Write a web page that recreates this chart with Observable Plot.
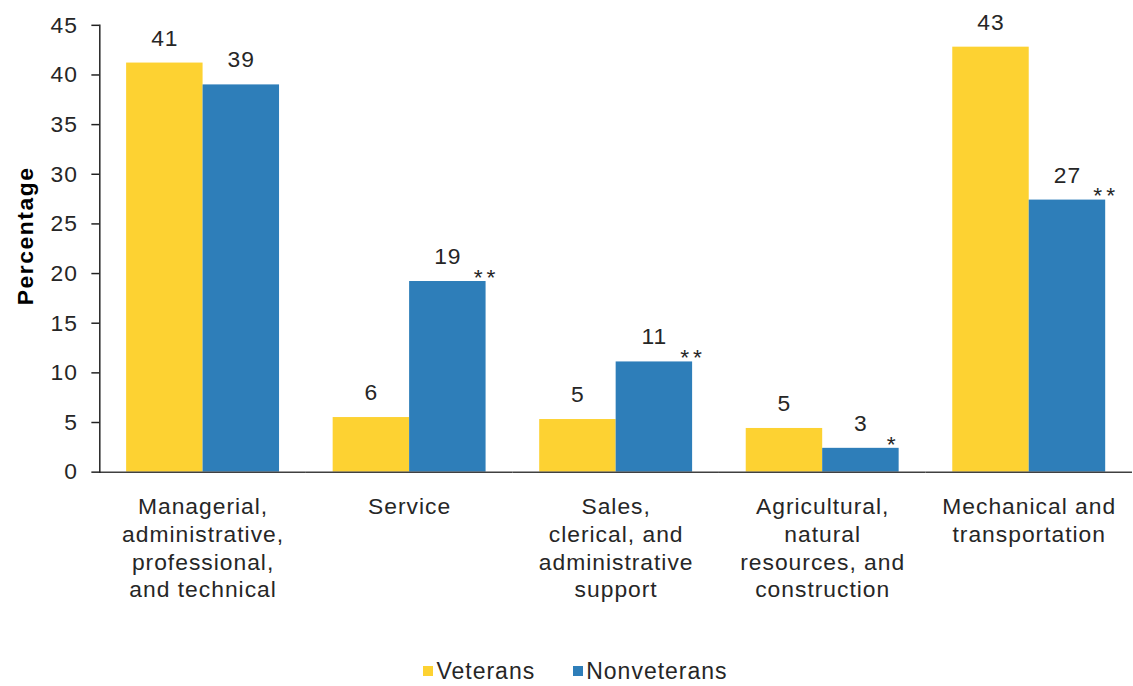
<!DOCTYPE html>
<html>
<head>
<meta charset="utf-8">
<script src="https://cdn.jsdelivr.net/npm/d3@7"></script>
<script src="https://cdn.jsdelivr.net/npm/@observablehq/plot@0.6"></script>
<style>
  body { margin: 0; background: #fff; overflow: hidden; font-family: "Liberation Sans", Arial, sans-serif; }
  #chart svg { display: block; }
  #chart g[aria-description="significance"] text { letter-spacing: 4px; }
  #chart g[aria-description="y title"] text { letter-spacing: 1.6px; }
  #legend { width: 1133px; display: flex; justify-content: center; gap: 38px; font-size: 23px; color: #262626;
            margin-top: 25px; letter-spacing: 1px; padding-left: 18px; box-sizing: border-box; line-height: 20px; }
  #legend .item { display: flex; align-items: center; }
  #legend .sw { display: inline-block; width: 10px; height: 10px; margin-right: 3px; }
</style>
</head>
<body>
<div id="chart"></div>
<div id="legend"></div>
<script>
const categories = [
  "Managerial, administrative, professional, and technical",
  "Service",
  "Sales, clerical, and administrative support",
  "Agricultural, natural resources, and construction",
  "Mechanical and transportation"
];
const categoryLabels = [
  "Managerial,\nadministrative,\nprofessional,\nand technical",
  "Service",
  "Sales,\nclerical, and\nadministrative\nsupport",
  "Agricultural,\nnatural\nresources, and\nconstruction",
  "Mechanical and\ntransportation"
];
const series = ["Veterans", "Nonveterans"];
const seriesColors = ["#FDD232", "#2E7EB9"];
const veterans = [41.2, 5.5, 5.3, 4.4, 42.8];
const nonveterans = [39.0, 19.2, 11.1, 2.4, 27.4];
const veteranLabels = ["41", "6", "5", "5", "43"];
const nonveteranLabels = ["39", "19", "11", "3", "27"];
const significance = ["", "**", "**", "*", "**"];
const yTicks = [0, 5, 10, 15, 20, 25, 30, 35, 40, 45];

const rows = [];
categories.forEach((c, i) => {
  rows.push({category: c, series: "Veterans", value: veterans[i], label: veteranLabels[i], sig: ""});
  rows.push({category: c, series: "Nonveterans", value: nonveterans[i], label: nonveteranLabels[i], sig: significance[i]});
});
const sigRows = rows.filter(d => d.sig);

const textColor = "#262626";

const chart = Plot.plot({
  width: 1141,
  height: 640,
  marginLeft: 98,
  marginRight: 0,
  marginTop: 25,
  marginBottom: 165,
  style: { fontFamily: "'Liberation Sans', Arial, sans-serif", letterSpacing: "1px", color: textColor, background: "#fff" },
  fx: { domain: categories, padding: 0, axis: null },
  x: { domain: series, paddingInner: 0, paddingOuter: 0.337, axis: null },
  y: { domain: [0, 45], axis: null },
  color: { domain: series, range: seriesColors },
  marks: [
    Plot.barY(rows, { fx: "category", x: "series", y: "value", fill: "series" }),
    Plot.ruleY([0], { stroke: "#404040", strokeWidth: 1.5 }),
    Plot.frame({ anchor: "left", facetAnchor: "left", stroke: "#222", strokeWidth: 1.5 }),
    Plot.axisY({ ticks: yTicks, tickSize: 8, tickPadding: 14, fontSize: 23, stroke: "#222", strokeWidth: 1.5, fill: textColor, label: null }),
    Plot.text(rows, { fx: "category", x: "series", y: "value", text: "label", dy: -25, fontSize: 23, fill: textColor }),
    Plot.text(sigRows, { fx: "category", x: "series", y: "value", text: "sig", textAnchor: "start", dx: 26, dy: -4, fontSize: 23, fill: textColor, ariaDescription: "significance" }),
    Plot.text(categories, { fx: d => d, text: (d, i) => categoryLabels[i], frameAnchor: "bottom", lineAnchor: "top", dy: 22, lineHeight: 1.22, fontSize: 23, fill: textColor }),
    Plot.text(["Percentage"], { fx: () => categories[0], frameAnchor: "left", textAnchor: "middle", rotate: -90, dx: -75, dy: -13, fontWeight: "bold", fontSize: 23, fill: "#000", ariaDescription: "y title" })
  ]
});
document.getElementById("chart").appendChild(chart);

const legend = document.getElementById("legend");
series.forEach((s, i) => {
  const item = document.createElement("span");
  item.className = "item";
  const sw = document.createElement("span");
  sw.className = "sw";
  sw.style.background = seriesColors[i];
  item.appendChild(sw);
  item.appendChild(document.createTextNode(s));
  legend.appendChild(item);
});
</script>
</body>
</html>
